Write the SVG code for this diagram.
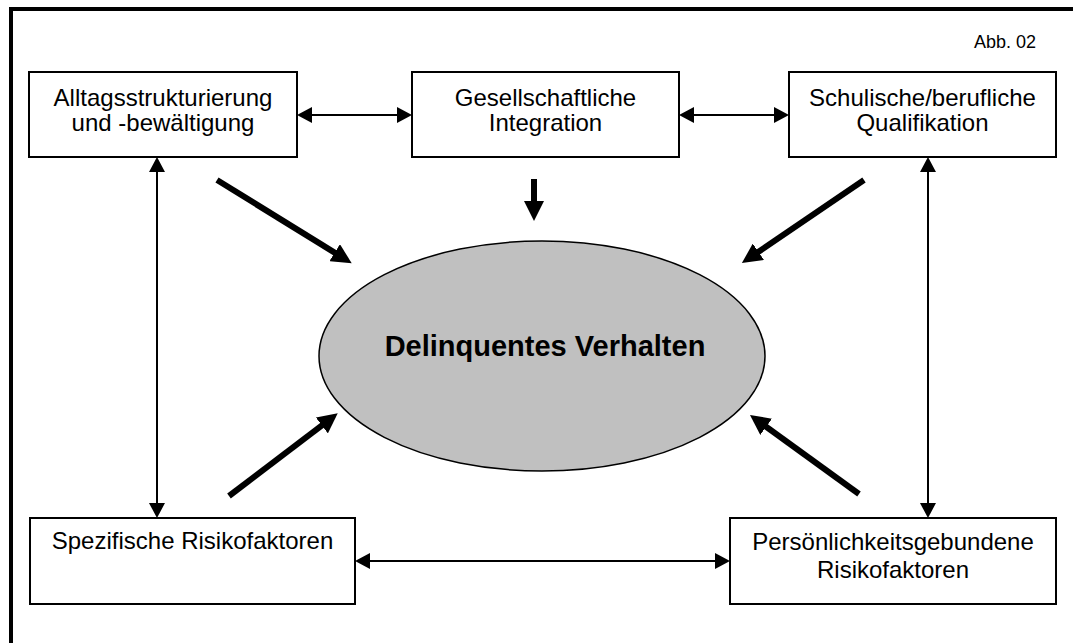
<svg xmlns="http://www.w3.org/2000/svg" width="1073" height="643" viewBox="0 0 1073 643">
<defs>
<style>
.box{fill:#fff;stroke:#000;stroke-width:2}
.t{font-family:"Liberation Sans",Arial,sans-serif;font-size:24px;fill:#000;text-anchor:middle}
.thin{stroke:#000;stroke-width:2;fill:none;marker-start:url(#h);marker-end:url(#h)}
.thick{stroke:#000;stroke-width:6;fill:none;marker-end:url(#H)}
</style>
<marker id="h" viewBox="0 0 15 16" markerWidth="15" markerHeight="16" refX="13" refY="8" orient="auto-start-reverse" markerUnits="userSpaceOnUse"><path d="M0,0 L15,8 L0,16 z" fill="#000"/></marker>
<marker id="H" viewBox="0 0 20 20" markerWidth="20" markerHeight="20" refX="8" refY="10" orient="auto" markerUnits="userSpaceOnUse"><path d="M0,0 L20,10 L0,20 z" fill="#000"/></marker>
</defs>
<rect x="0" y="0" width="1073" height="643" fill="#fff"/>
<g id="frame">
<line x1="11" y1="7" x2="11" y2="643" stroke="#000" stroke-width="4"/>
<line x1="9" y1="9" x2="1073" y2="9" stroke="#000" stroke-width="4"/>
<text x="1036" y="48" style="font-family:'Liberation Sans',Arial,sans-serif;font-size:18px;text-anchor:end">Abb. 02</text>
</g>
<g id="connectors">
<line class="thin" x1="299" y1="115" x2="410" y2="115"/>
<line class="thin" x1="681" y1="115" x2="787" y2="115"/>
<line class="thin" x1="157" y1="159" x2="157" y2="516"/>
<line class="thin" x1="928" y1="159" x2="928" y2="516"/>
<line class="thin" x1="357" y1="561" x2="728" y2="561"/>
<line class="thick" x1="217" y1="180" x2="341.5" y2="256.9"/>
<line class="thick" x1="534" y1="179" x2="534" y2="209"/>
<line class="thick" x1="864" y1="180" x2="751.8" y2="256.3"/>
<line class="thick" x1="229" y1="496" x2="328.2" y2="420.6"/>
<line class="thick" x1="859" y1="494" x2="759.7" y2="422.1"/>
</g>
<g id="n1"><rect class="box" x="29" y="72" width="268" height="85"/><text class="t" x="163" y="106">Alltagsstrukturierung</text><text class="t" x="163" y="131">und -bewältigung</text></g>
<g id="n2"><rect class="box" x="412" y="72" width="267" height="85"/><text class="t" x="545.5" y="106">Gesellschaftliche</text><text class="t" x="545.5" y="131">Integration</text></g>
<g id="n3"><rect class="box" x="789" y="72" width="267" height="85"/><text class="t" x="922.5" y="106">Schulische/berufliche</text><text class="t" x="922.5" y="131">Qualifikation</text></g>
<g id="n4"><rect class="box" x="30" y="518" width="325" height="86"/><text class="t" x="192.5" y="549">Spezifische Risikofaktoren</text></g>
<g id="n5"><rect class="box" x="730" y="518" width="326" height="86"/><text class="t" x="893" y="550">Persönlichkeitsgebundene</text><text class="t" x="893" y="578">Risikofaktoren</text></g>
<g id="center"><ellipse cx="542" cy="356" rx="223" ry="115" fill="#c0c0c0" stroke="#000" stroke-width="1.5"/><text x="545" y="356" style="font-family:'Liberation Sans',Arial,sans-serif;font-size:29px;font-weight:bold;text-anchor:middle">Delinquentes Verhalten</text></g>
</svg>
